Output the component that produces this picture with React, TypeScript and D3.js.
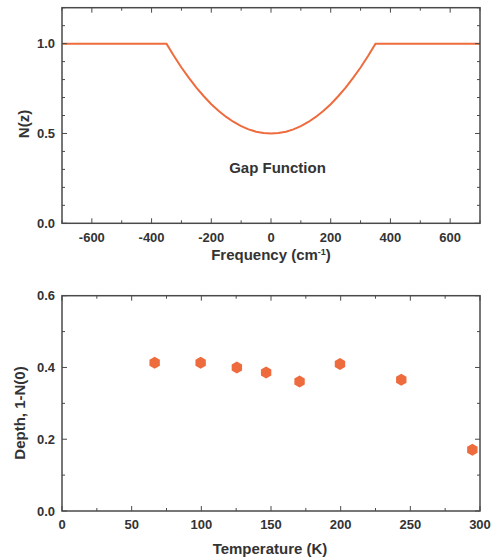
import React from "react";
import * as d3 from "d3";

// Top panel: gap function N(z)
const freq = [-700, -350, -325, -300, -275, -250, -225, -200, -175, -150, -125, -100, -75, -50, -25, 0, 25, 50, 75, 100, 125, 150, 175, 200, 225, 250, 275, 300, 325, 350, 700];
const nz = [1, 1, 0.931, 0.867, 0.809, 0.755, 0.707, 0.663, 0.625, 0.592, 0.564, 0.541, 0.523, 0.51, 0.503, 0.5, 0.503, 0.51, 0.523, 0.541, 0.564, 0.592, 0.625, 0.663, 0.707, 0.755, 0.809, 0.867, 0.931, 1, 1];
const freqTicks = [-600, -400, -200, 0, 200, 400, 600];
const nzTicks = [0, 0.5, 1.0];

// Bottom panel: depth vs temperature
const temps = [66.5, 99.5, 125.5, 146.5, 170.5, 199.5, 243.5, 294.5];
const depth = [0.413, 0.413, 0.4, 0.386, 0.361, 0.41, 0.366, 0.171];
const tempTicks = [0, 50, 100, 150, 200, 250, 300];
const depthTicks = [0, 0.2, 0.4, 0.6];

const ORANGE = "#EE6B3D";
const AXIS = "#4a4a4a";
const TEXT = "#333333";
const FONT = "'Liberation Sans', Arial, sans-serif";

const L = 62, R = 480;
const TICK_FS = 13;
const TITLE_FS = 15;

function hexPath(r: number) {
  const pts: [number, number][] = [];
  for (let i = 0; i < 6; i++) {
    const a = Math.PI / 2 + (i * Math.PI) / 3;
    pts.push([r * Math.cos(a), r * Math.sin(a)]);
  }
  return "M" + pts.map((p) => p.join(",")).join("L") + "Z";
}

export default function App() {
  const x1 = d3.scaleLinear().domain([-700, 700]).range([L, R]);
  const y1 = d3.scaleLinear().domain([0, 1.2]).range([223.3, 7.7]);
  const x2 = d3.scaleLinear().domain([0, 300]).range([L, R]);
  const y2 = d3.scaleLinear().domain([0, 0.6]).range([511, 295.7]);

  const line = d3
    .line<number>()
    .x((_, i) => x1(freq[i]))
    .y((d) => y1(d))
    .curve(d3.curveLinear);

  const x1Minor = d3.range(-700, 701, 100);
  const y1Minor = d3.range(0, 1.201, 0.1);
  const x2Minor = d3.range(0, 301, 25);
  const y2Minor = d3.range(0, 0.601, 0.1);

  const isMajor = (v: number, step: number) => Math.abs(v / step - Math.round(v / step)) < 1e-6;

  const frame = (xs: any, ys: any, xMin: number[], yMin: number[], xStep: number, yStep: number) => {
    const [x0, x1r] = xs.range();
    const [yb, yt] = ys.range();
    return (
      <g>
        <rect x={x0} y={yt} width={x1r - x0} height={yb - yt} fill="none" stroke={AXIS} strokeWidth={1.5} />
        {xMin.map((v, i) => {
          const len = isMajor(v, xStep) ? 5 : 3;
          const xx = xs(v);
          return (
            <g key={"x" + i}>
              <line x1={xx} x2={xx} y1={yb} y2={yb - len} stroke={AXIS} strokeWidth={1} />
              <line x1={xx} x2={xx} y1={yt} y2={yt + len} stroke={AXIS} strokeWidth={1} />
            </g>
          );
        })}
        {yMin.map((v, i) => {
          const len = isMajor(v, yStep) ? 5 : 3;
          const yy = ys(v);
          return (
            <g key={"y" + i}>
              <line x1={x0} x2={x0 + len} y1={yy} y2={yy} stroke={AXIS} strokeWidth={1} />
              <line x1={x1r} x2={x1r - len} y1={yy} y2={yy} stroke={AXIS} strokeWidth={1} />
            </g>
          );
        })}
      </g>
    );
  };

  const hex = hexPath(6);

  return (
    <svg width={494} height={558} style={{ position: "absolute", left: 0, top: 0 }} fontFamily={FONT}>
      <rect width={494} height={558} fill="#fff" />
      {/* Top panel */}
      <path d={line(nz) || ""} fill="none" stroke={ORANGE} strokeWidth={2} />
      {frame(x1, y1, x1Minor, y1Minor, 200, 0.5)}
      {freqTicks.map((v) => (
        <text key={v} x={x1(v)} y={241.5} textAnchor="middle" fontSize={TICK_FS} fontWeight="bold" fill={TEXT}>
          {v}
        </text>
      ))}
      {nzTicks.map((v) => (
        <text key={v} x={55} y={y1(v)} dy="0.36em" textAnchor="end" fontSize={TICK_FS} fontWeight="bold" fill={TEXT}>
          {v.toFixed(1)}
        </text>
      ))}
      <text x={271} y={259.5} textAnchor="middle" fontSize={TITLE_FS} fontWeight="bold" fill={TEXT}>
        Frequency (cm<tspan dy={-5} fontSize={9}>-1</tspan>
        <tspan dy={5}>)</tspan>
      </text>
      <text transform="translate(29,124) rotate(-90)" textAnchor="middle" fontSize={TITLE_FS} fontWeight="bold" fill={TEXT}>
        N(z)
      </text>
      <text x={277.5} y={172.5} textAnchor="middle" fontSize={TITLE_FS} fontWeight="bold" fill={TEXT}>
        Gap Function
      </text>

      {/* Bottom panel */}
      {temps.map((t, i) => (
        <path key={i} d={hex} transform={`translate(${x2(t)},${y2(depth[i])})`} fill={ORANGE} />
      ))}
      {frame(x2, y2, x2Minor, y2Minor, 50, 0.2)}
      {tempTicks.map((v) => (
        <text key={v} x={x2(v)} y={529} textAnchor="middle" fontSize={TICK_FS} fontWeight="bold" fill={TEXT}>
          {v}
        </text>
      ))}
      {depthTicks.map((v) => (
        <text key={v} x={55} y={y2(v)} dy="0.36em" textAnchor="end" fontSize={TICK_FS} fontWeight="bold" fill={TEXT}>
          {v.toFixed(1)}
        </text>
      ))}
      <text x={270} y={554} textAnchor="middle" fontSize={TITLE_FS} fontWeight="bold" fill={TEXT}>
        Temperature (K)
      </text>
      <text transform="translate(25,413) rotate(-90)" textAnchor="middle" fontSize={TITLE_FS} fontWeight="bold" fill={TEXT}>
        Depth, 1-N(0)
      </text>
    </svg>
  );
}
